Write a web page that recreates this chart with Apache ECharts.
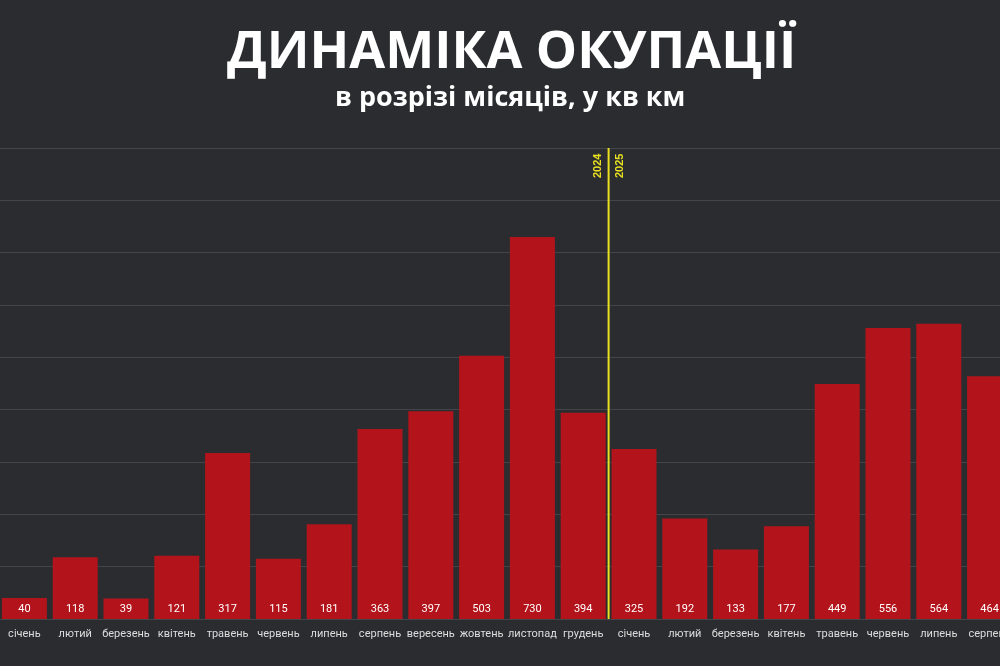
<!DOCTYPE html><html><head><meta charset="utf-8">
<script src="https://cdn.jsdelivr.net/npm/echarts@6/dist/echarts.min.js"></script>
<style>html,body{margin:0;background:#2b2c30}#c{width:1000px;height:666px}</style></head><body><div id="c"></div>
<script>
const categories=['січень','лютий','березень','квітень','травень','червень','липень','серпень','вересень','жовтень','листопад','грудень','січень','лютий','березень','квітень','травень','червень','липень','серпень'];
const values=[40,118,39,121,317,115,181,363,397,503,730,394,325,192,133,177,449,556,564,464];
const yearLabels=['2024','2025'];
const chart=echarts.init(document.getElementById('c'));
chart.setOption({
backgroundColor:'#2b2c30',
title:[{text:'ДИНАМІКА ОКУПАЦІЇ',left:222,top:22,textStyle:{color:'#fff',fontSize:52,fontWeight:'bold',fontFamily:'Open Sans'}},
{text:'в розрізі місяців, у кв км',left:330,top:80,textStyle:{color:'#fff',fontSize:27,fontWeight:'bold',fontFamily:'Open Sans'}}],
grid:{left:-1,width:1016,top:148,bottom:47,outerBoundsMode:'none',containLabel:false},
xAxis:{type:'category',data:categories,axisTick:{show:false},axisLine:{show:false},axisLabel:{color:'#ddd',fontSize:11,margin:10,interval:0,fontFamily:'Roboto'}},
yAxis:{type:'value',min:0,max:900,interval:100,axisLabel:{show:false},splitLine:{lineStyle:{color:'#44454a',width:1}}},
series:[{type:'bar',data:values,barWidth:45,itemStyle:{color:'#b3141b'},
label:{show:true,position:'insideBottom',distance:4,color:'#fff',fontSize:11,fontFamily:'Roboto'}}]
});
const x=(chart.convertToPixel({xAxisIndex:0},11)+chart.convertToPixel({xAxisIndex:0},12))/2;
const yTop=chart.convertToPixel({yAxisIndex:0},900), yBot=chart.convertToPixel({yAxisIndex:0},0);
chart.setOption({graphic:[
{type:'line',shape:{x1:x,y1:yTop,x2:x,y2:yBot},style:{stroke:'#e8e020',lineWidth:2},z:10},
{type:'text',x:x-11,y:178,rotation:Math.PI/2,style:{text:yearLabels[0],fill:'#e8e020',fontSize:11,fontWeight:'bold',textAlign:'left',textVerticalAlign:'middle'}},
{type:'text',x:x+11,y:178,rotation:Math.PI/2,style:{text:yearLabels[1],fill:'#e8e020',fontSize:11,fontWeight:'bold',textAlign:'left',textVerticalAlign:'middle'}}]});
</script></body></html>
